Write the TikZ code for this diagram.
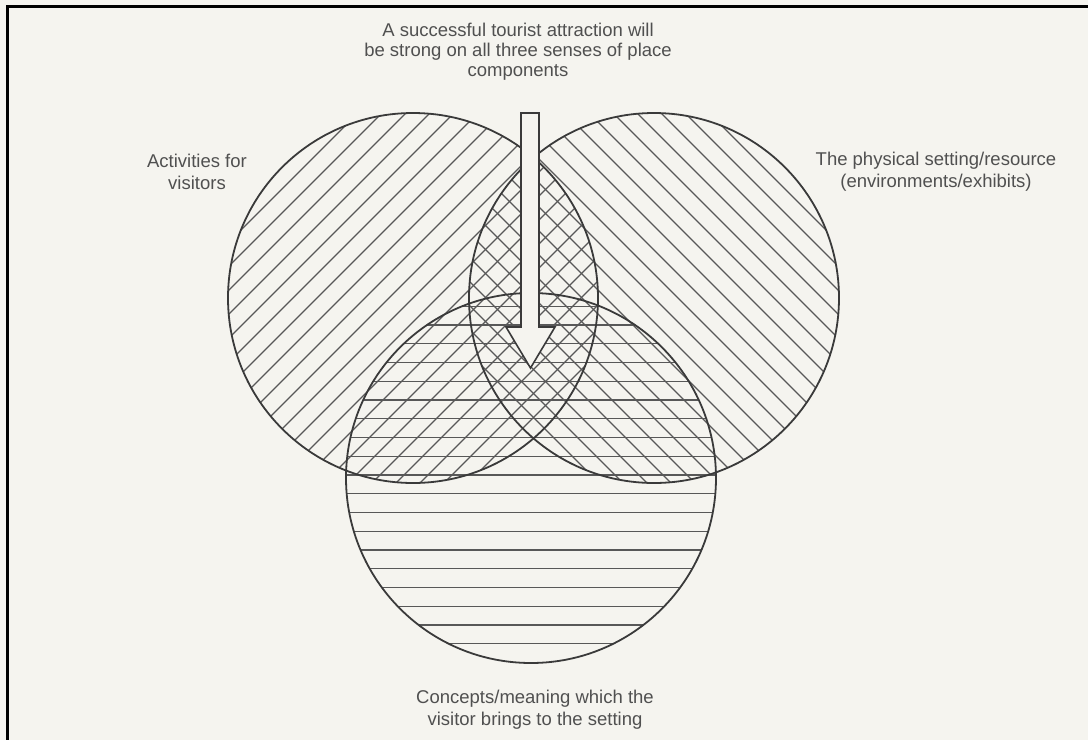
\documentclass[tikz,border=0pt]{standalone}
\usepackage{fontspec}
\setmainfont{Liberation Sans}
\usetikzlibrary{positioning}
\definecolor{paper}{HTML}{F5F4EF}
\definecolor{ink}{HTML}{3A3A3A}
\definecolor{txt}{HTML}{505050}

\begin{document}
\begin{tikzpicture}[
    x=1pt, y=-1pt,
    ring/.style={draw=ink, line width=1.8pt},
    hatch/.style={draw=ink!85, line width=1.2pt},
    sensetext/.style={text=txt, align=center, inner sep=0pt,
        font=\fontsize{18.5}{22}\selectfont},
    pointer/.style={draw=ink, line width=1.6pt, fill=paper, line join=miter}
]
    \fill[paper] (0,0) rectangle (1088,740);
    \useasboundingbox (0,0) rectangle (1088,740);
    \draw[line width=3pt] (1088,6) -- (7.5,6) -- (7.5,740);

    \coordinate (act) at (413,298);
    \coordinate (res) at (654,298);
    \coordinate (con) at (531,478);

    % the three senses of place
    \begin{scope}
        \clip (act) circle (185);
        \foreach \k in {-12,...,12}
            \draw[hatch] ([shift={(\k*24-200,200)}]act) -- ++(400,-400);
    \end{scope}
    \begin{scope}
        \clip (res) circle (185);
        \foreach \k in {-12,...,12}
            \draw[hatch] ([shift={(\k*24-200,-200)}]res) -- ++(400,400);
    \end{scope}
    \begin{scope}
        \clip (con) circle (185);
        \foreach \k in {-1,...,19}
            \draw[hatch] ([shift={(-200,\k*18.75-171.75)}]con) -- ++(400,0);
    \end{scope}
    \draw[ring] (act) circle (185);
    \draw[ring] (res) circle (185);
    \draw[ring] (con) circle (185);

    \coordinate (tip) at (530.5,368);
    \draw[pointer] (521,113) -- (539,113) -- (539,327) -- (555,327) -- (tip)
        -- (506,327) -- (521,327) -- cycle;

    \node[sensetext, font=\fontsize{18.5}{20}\selectfont] (goal) at (518,52)
        {A successful tourist attraction will\\be strong on all three senses of place\\components};
    \node[sensetext] (activities) at (197,172) {Activities for\\visitors};
    \node[sensetext] (setting) at (936,172)
        {The physical setting/resource\\(environments/exhibits)};
    \node[sensetext] (concepts) at (535,710)
        {Concepts/meaning which the\\visitor brings to the setting};
\end{tikzpicture}
\end{document}
